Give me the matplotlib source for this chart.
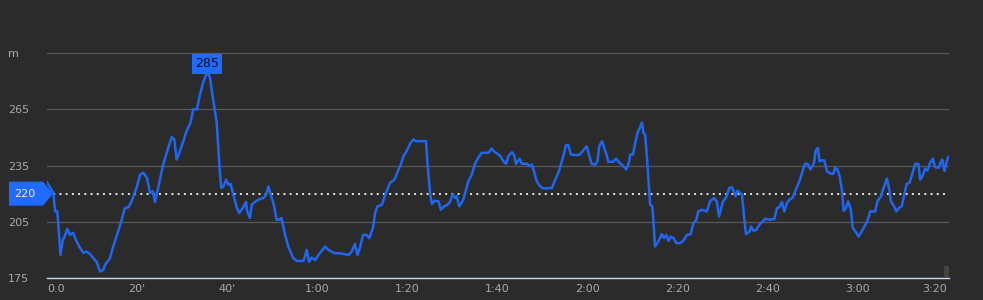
import numpy as np
import matplotlib
matplotlib.use("Agg")
import matplotlib.pyplot as plt
from matplotlib.patches import Polygon, Rectangle
from matplotlib.transforms import IdentityTransform

## Elevation profile data
# time in minutes
minutes = [
    0.0, 1.4, 1.8, 2.3, 3.0, 3.5, 3.8, 4.5, 5.1, 5.8, 6.6, 7.3, 8.1, 8.8, 9.6,
    10.3, 11.0, 11.8, 12.5, 12.9, 14.0, 14.7, 15.8, 16.6, 17.3, 18.1, 18.8, 19.9,
    20.7, 21.4, 22.2, 22.9, 23.5, 24.0, 24.7, 25.8, 26.6, 27.7, 28.3, 28.8, 29.4,
    30.3, 31.0, 31.9, 32.5, 33.3, 34.0, 34.7, 35.6, 36.2, 36.8, 37.7, 38.4, 38.7,
    39.2, 39.8, 40.3, 40.8, 41.4, 42.2, 42.7, 43.5, 44.2, 44.5, 45.1, 45.5, 46.2,
    47.0, 48.1, 48.7, 49.2, 49.7, 50.4, 51.0, 51.6, 52.1, 52.9, 53.6, 54.7, 55.5,
    57.0, 57.7, 58.2, 58.8, 59.6, 60.3, 61.8, 62.5, 63.2, 64.0, 65.1, 66.2, 67.0,
    67.7, 68.4, 69.0, 69.6, 70.2, 71.0, 71.6, 72.4, 72.9, 73.4, 74.4, 75.3, 76.2,
    77.2, 77.8, 78.6, 79.2, 79.9, 80.7, 81.4, 82.0, 84.2, 84.5, 85.1, 85.5, 86.1,
    87.0, 87.5, 88.2, 89.0, 89.6, 90.1, 90.7, 91.0, 91.6, 92.5, 93.1, 93.6, 94.4,
    95.0, 95.8, 96.6, 98.1, 98.8, 99.4, 99.8, 100.7, 101.4, 102.0, 102.5, 103.3,
    103.8, 104.2, 105.0, 105.5, 106.6, 107.3, 107.7, 108.2, 108.8, 109.6, 110.3,
    112.2, 112.9, 113.6, 114.4, 114.9, 115.3, 115.8, 116.4, 117.7, 118.4, 119.3,
    119.9, 120.4, 121.0, 121.8, 122.3, 122.7, 123.3, 123.8, 124.4, 124.7, 125.8,
    126.4, 127.0, 127.7, 128.7, 129.2, 129.6, 130.2, 130.7, 131.2, 132.2, 132.5,
    132.9, 133.4, 134.0, 134.5, 135.1, 135.8, 136.6, 137.1, 137.6, 138.1, 138.6,
    139.2, 139.8, 140.7, 141.4, 142.2, 143.0, 143.6, 144.2, 144.7, 145.5, 146.6,
    147.3, 148.2, 148.8, 149.3, 150.2, 150.9, 151.6, 152.2, 152.5, 153.0, 153.4,
    154.4, 154.9, 155.3, 156.1, 156.4, 157.0, 157.6, 158.4, 159.6, 160.7, 161.6,
    162.2, 162.7, 163.3, 163.8, 164.4, 165.0, 165.7, 166.2, 166.7, 167.3, 167.9,
    168.4, 169.0, 169.6, 170.1, 170.4, 170.8, 171.3, 171.6, 172.2, 172.7, 173.3,
    174.2, 174.7, 175.1, 175.6, 176.1, 176.6, 177.0, 177.5, 178.0, 178.6, 179.0,
    179.9, 180.3, 181.0, 181.6, 182.3, 182.9, 184.0, 184.5, 185.3, 185.8, 186.6,
    187.1, 187.5, 188.2, 188.7, 189.4, 189.9, 190.4, 191.0, 191.6, 192.2, 192.9,
    193.6, 194.0, 194.6, 195.1, 195.6, 196.2, 196.8, 197.3, 198.1, 198.6, 198.9,
    199.4, 199.9, 200.3,
]
# elevation in metres
elevation = [
    226.0, 220.5, 210.5, 210.5, 187.3, 195.4, 196.4, 201.2, 198.0, 199.1, 194.4,
    191.2, 188.4, 189.1, 187.7, 185.6, 183.7, 178.4, 179.3, 182.0, 185.6, 191.8,
    199.8, 206.1, 212.3, 212.7, 215.9, 223.1, 230.2, 231.1, 228.4, 220.4, 221.2,
    215.6, 223.1, 235.5, 241.8, 250.2, 248.9, 238.2, 241.8, 248.0, 253.4, 257.9,
    265.0, 265.0, 273.0, 279.3, 285.0, 282.0, 272.1, 257.9, 231.9, 223.1, 223.9,
    227.5, 224.8, 225.2, 219.5, 212.3, 209.7, 212.3, 215.6, 210.5, 207.0, 214.1,
    215.6, 216.8, 217.7, 219.5, 223.9, 219.5, 214.1, 206.1, 206.1, 207.0, 198.0,
    191.8, 185.6, 184.1, 184.1, 190.0, 183.7, 185.9, 184.6, 187.3, 191.8, 190.0,
    189.1, 188.2, 188.2, 187.7, 187.3, 189.1, 193.2, 187.3, 191.8, 198.0, 198.0,
    196.3, 201.6, 209.7, 213.2, 214.1, 220.4, 225.7, 227.5, 231.1, 235.5, 240.0,
    242.7, 246.8, 248.9, 248.0, 248.0, 237.3, 220.4, 214.5, 216.2, 215.9, 211.4,
    213.2, 214.1, 215.9, 219.5, 217.7, 218.6, 213.2, 216.8, 222.1, 226.6, 230.2,
    235.5, 239.1, 241.8, 241.8, 244.1, 242.3, 241.8, 240.0, 237.3, 235.9, 240.0,
    242.1, 240.5, 235.9, 238.7, 235.9, 235.9, 234.6, 235.5, 231.9, 226.6, 223.9,
    222.7, 223.1, 227.5, 231.1, 237.3, 241.8, 245.9, 245.9, 240.9, 240.5, 240.9,
    243.6, 245.3, 240.9, 235.9, 235.5, 237.3, 245.3, 248.0, 244.5, 240.0, 237.0,
    237.0, 238.7, 237.0, 235.5, 232.9, 235.9, 240.9, 240.9, 247.2, 252.5, 257.9,
    252.5, 251.6, 235.5, 214.1, 213.2, 191.8, 194.4, 198.4, 196.3, 198.0, 194.8,
    197.1, 196.3, 193.6, 193.6, 195.0, 198.0, 198.4, 204.3, 205.5, 210.5, 211.4,
    210.5, 215.9, 217.7, 215.9, 207.8, 215.9, 218.0, 223.1, 223.4, 221.6, 218.6,
    221.6, 219.5, 207.0, 198.4, 199.8, 202.5, 200.2, 200.7, 203.8, 206.6, 206.1,
    206.6, 212.3, 212.7, 215.6, 210.5, 215.0, 216.8, 218.0, 221.2, 223.9, 227.5,
    232.3, 235.9, 235.9, 232.9, 235.0, 236.4, 243.0, 244.5, 237.3, 237.8, 237.7,
    231.9, 230.6, 230.6, 233.8, 232.9, 229.3, 222.1, 210.9, 212.3, 215.9, 211.4,
    201.9, 198.9, 197.1, 199.8, 202.5, 205.5, 210.5, 210.5, 215.9, 218.6, 222.7,
    228.0, 222.7, 215.9, 213.2, 210.5, 212.7, 213.2, 218.6, 225.2, 225.7, 230.2,
    235.9, 235.9, 227.5, 229.8, 233.4, 232.3, 236.4, 238.7, 234.1, 233.8, 237.0,
    238.2, 232.0, 237.3, 239.7,
]

avg_elev = 220
max_elev = 285

y_ticks = [175, 205, 235, 265, 295]
y_labels = ["175", "205", "235", "265", "m"]
x_ticks = [0, 20, 40, 60, 80, 100, 120, 140, 160, 180, 200]
x_labels = ["0.0", "20'", "40'", "1:00", "1:20", "1:40", "2:00", "2:20",
            "2:40", "3:00", "3:20"]

bg = "#2b2b2b"
blue = "#1f67f2"
txt = "#aaaaaa"

fig = plt.figure(figsize=(9.83, 3.0), dpi=100, facecolor=bg)
ax = fig.add_axes([47 / 983, 22 / 300, 902 / 983, 225.5 / 300])
ax.set_facecolor(bg)

ax.plot(minutes, elevation, color=blue, lw=1.8, solid_joinstyle="round", zorder=3)
ax.axhline(avg_elev, color="#e6e6e6", lw=1.4, ls=(0, (1, 2.2)), zorder=2)

ax.set_xlim(0, 200.4)
ax.set_ylim(175, 295.3)

for s in ["top", "left", "right"]:
    ax.spines[s].set_visible(False)
ax.spines["bottom"].set_color("#c8dcf0")
ax.spines["bottom"].set_linewidth(1.0)

ax.set_yticks(y_ticks)
ax.set_yticklabels(y_labels)
ax.set_xticks(x_ticks)
ax.set_xticklabels(x_labels)
ax.grid(axis="y", color="#5a5a5a", lw=0.9)
ax.tick_params(axis="y", length=0, pad=28, labelsize=8, labelcolor=txt)
ax.tick_params(axis="x", length=0, pad=4, labelsize=8, labelcolor=txt)
for lab in ax.get_yticklabels():
    lab.set_horizontalalignment("left")
xl = ax.get_xticklabels()
xl[0].set_horizontalalignment("left")
xl[-1].set_horizontalalignment("right")

# peak label
i_max = int(np.argmax(elevation))
ax.annotate(str(max_elev), (minutes[i_max], elevation[i_max]), xytext=(0, 1),
            textcoords="offset points", ha="center", va="bottom", fontsize=9,
            color="#111111", zorder=5,
            bbox=dict(boxstyle="square,pad=0.25", fc="#1f6bff", ec="none"))

# average marker on the left
_, ypix = ax.transData.transform((0, avg_elev))
verts = [(9, ypix - 12), (43, ypix - 12), (53, ypix), (43, ypix + 12), (9, ypix + 12)]
fig.add_artist(Polygon(verts, closed=True, fc="#1f6bff", ec="none",
                       transform=IdentityTransform()))
fig.text(25 / 983, ypix / 300, str(avg_elev), ha="center", va="center",
         fontsize=8, color="#e8e8e8")

# small scroll handle bottom right
fig.add_artist(Rectangle((944 / 983, 23 / 300), 5 / 983, 11 / 300, fc="#444444",
                         ec="none", transform=fig.transFigure))

fig.savefig("out.png", dpi=100, facecolor=bg)
